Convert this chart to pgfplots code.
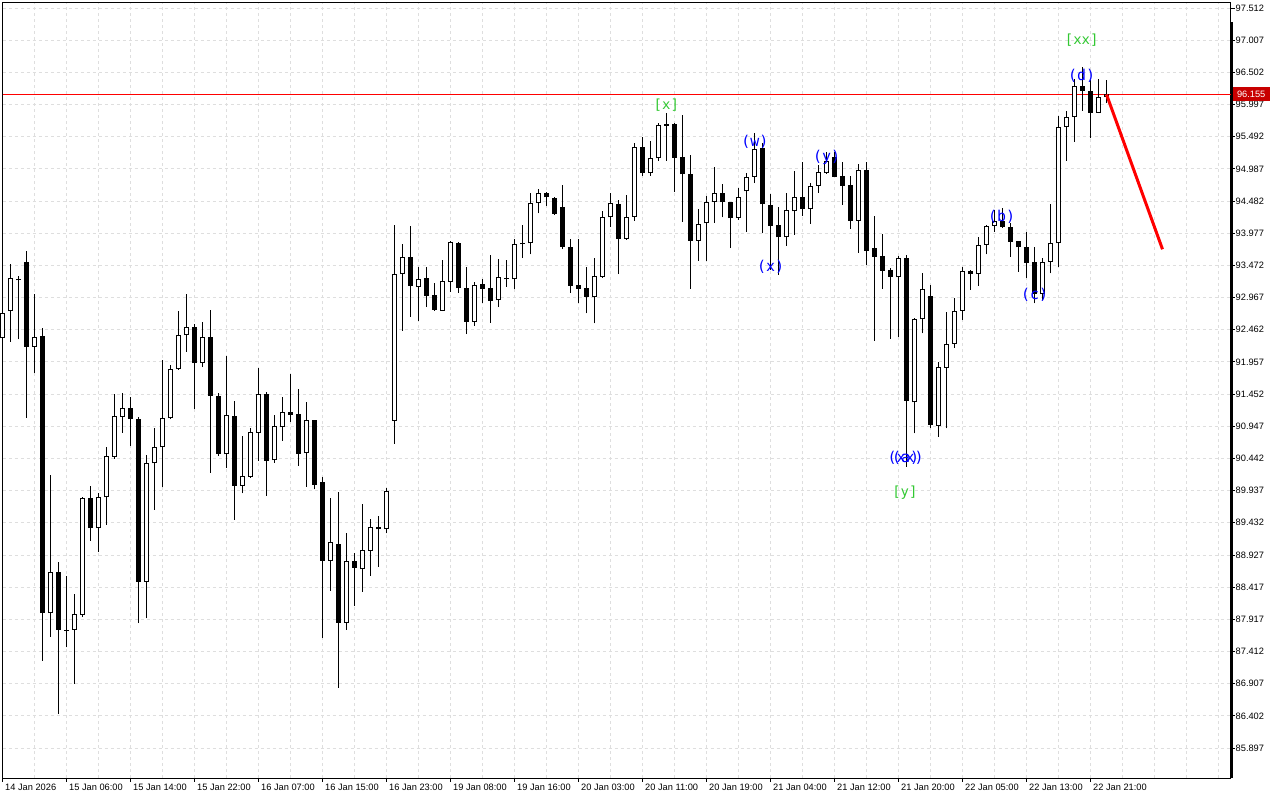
\documentclass[border=0pt]{standalone}
\usepackage{fontspec}
\setmainfont{Liberation Sans}
\newfontfamily\wavefont{DejaVu Sans Mono}
\usepackage{pgfplots}
\usepackage{pgfplotstable}
\pgfplotsset{compat=1.18}
\definecolor{gridgray}{RGB}{222,222,222}
\definecolor{wavegreen}{RGB}{50,200,50}
\definecolor{waveblue}{RGB}{0,0,255}
\definecolor{tagred}{RGB}{200,0,0}

% hourly candles: index, open, high, low, close
\pgfplotstableread{
k o h l c
0 92.328 92.851 92.254 92.730
1 92.752 93.494 92.275 93.270
2 93.251 93.306 92.312 93.235
3 93.521 93.698 91.082 92.196
4 92.196 93.023 91.779 92.353
5 92.364 92.485 87.268 88.012
6 88.012 90.182 87.644 88.665
7 88.665 88.812 86.431 87.750
8 87.750 88.597 87.478 87.734
9 87.750 88.315 86.902 87.996
10 87.985 89.842 87.949 89.817
11 89.817 90.014 89.151 89.346
12 89.346 89.895 88.979 89.832
13 89.832 90.627 89.398 90.485
14 90.470 91.454 90.434 91.108
15 91.097 91.465 90.846 91.234
16 91.234 91.402 90.642 91.057
17 91.057 91.097 87.855 88.508
18 88.508 90.496 87.933 90.366
19 90.366 90.915 89.633 90.617
20 90.617 91.987 89.989 91.072
21 91.072 91.909 91.060 91.841
22 91.841 92.757 91.830 92.375
23 92.375 93.023 92.118 92.501
24 92.501 92.552 91.214 91.936
25 91.936 92.584 91.873 92.353
26 92.353 92.772 90.218 91.427
27 91.422 91.465 90.481 90.512
28 90.507 92.050 90.297 91.119
29 91.108 91.344 89.476 90.014
30 90.014 90.795 89.895 90.162
31 90.156 90.915 90.140 90.853
32 90.846 91.857 90.407 91.454
33 91.454 91.485 89.857 90.407
34 90.413 91.124 90.376 90.947
35 90.931 91.402 90.721 91.167
36 91.171 91.768 91.019 91.129
37 91.140 91.532 90.328 90.517
38 90.523 91.328 89.999 91.041
39 91.041 91.050 89.958 90.030
40 90.068 90.156 87.629 88.837
41 88.837 89.821 88.366 89.126
42 89.099 89.920 86.844 87.864
43 87.864 89.277 87.750 88.833
44 88.833 88.963 88.126 88.727
45 88.702 89.727 88.351 89.005
46 88.994 89.487 88.597 89.361
47 89.361 89.539 88.743 89.330
48 89.330 89.974 89.267 89.936
49 91.035 94.106 90.669 93.333
50 93.333 93.808 92.447 93.609
51 93.609 94.091 92.667 93.154
52 93.129 93.442 92.604 93.264
53 93.270 93.452 92.815 92.992
54 93.003 93.191 92.760 92.772
55 92.761 93.557 92.755 93.227
56 93.216 93.855 93.059 93.840
57 93.829 93.844 93.044 93.113
58 93.113 93.452 92.391 92.589
59 92.589 93.207 92.526 93.165
60 93.176 93.264 92.887 93.107
61 93.113 93.636 92.573 92.918
62 92.924 93.568 92.815 93.285
63 93.274 93.557 93.138 93.254
64 93.254 93.882 93.097 93.803
65 93.824 94.106 93.584 93.800
66 93.819 94.604 93.646 94.447
67 94.447 94.671 94.290 94.604
68 94.604 94.629 94.409 94.541
69 94.525 94.541 94.263 94.279
70 94.384 94.734 93.725 93.766
71 93.756 93.882 93.044 93.154
72 93.160 93.882 92.877 93.107
73 93.113 93.442 92.720 92.981
74 92.981 93.584 92.563 93.306
75 93.295 94.331 93.279 94.227
76 94.227 94.604 94.080 94.447
77 94.431 94.499 93.333 93.882
78 93.882 94.577 93.875 94.237
79 94.237 95.389 94.174 95.335
80 95.335 95.483 94.880 94.918
81 94.918 95.425 94.880 95.153
82 95.153 95.712 95.116 95.671
83 95.692 95.860 95.116 95.665
84 95.687 95.703 94.629 95.163
85 95.169 95.833 94.158 94.902
86 94.902 95.205 93.102 93.860
87 93.860 94.358 93.546 94.117
88 94.133 94.562 93.546 94.472
89 94.472 95.012 94.142 94.613
90 94.613 94.745 94.227 94.463
91 94.463 94.470 93.741 94.212
92 94.212 94.682 94.185 94.541
93 94.635 94.918 94.001 94.864
94 94.864 95.546 94.761 95.295
95 95.310 95.398 93.976 94.431
96 94.420 94.593 93.400 94.095
97 94.106 94.384 93.322 93.913
98 93.913 94.604 93.777 94.342
99 94.321 94.959 93.949 94.541
100 94.541 95.091 94.252 94.353
101 94.353 94.770 94.122 94.719
102 94.719 95.048 94.613 94.934
103 94.918 95.257 94.910 95.116
104 95.178 95.247 94.860 94.864
105 94.875 95.095 94.420 94.723
106 94.734 94.875 94.044 94.174
107 94.174 95.064 93.672 94.970
108 94.970 95.095 93.479 93.703
109 93.741 94.248 92.290 93.609
110 93.620 93.965 93.102 93.389
111 93.400 93.436 92.317 93.295
112 93.285 93.625 92.353 93.584
113 93.584 93.636 90.313 91.349
114 91.323 92.640 90.837 92.631
115 92.626 93.348 92.406 93.097
116 92.992 93.165 90.915 90.967
117 90.956 91.961 90.784 91.873
118 91.867 92.745 90.915 92.239
119 92.239 92.956 92.176 92.761
120 92.757 93.442 92.615 93.384
121 93.384 93.400 93.086 93.333
122 93.333 93.923 93.154 93.792
123 93.792 94.100 93.646 94.091
124 94.091 94.342 94.001 94.174
125 94.174 94.368 94.060 94.070
126 94.070 94.133 93.609 93.844
127 93.855 93.860 93.373 93.756
128 93.756 94.001 93.270 93.515
129 93.526 93.756 92.877 93.019
130 93.019 93.584 92.929 93.526
131 93.526 94.436 93.348 93.819
132 93.819 95.817 93.452 95.640
133 95.640 95.900 95.116 95.797
134 95.797 96.393 95.414 96.288
135 96.288 96.591 95.900 96.210
136 96.210 96.382 95.467 95.869
137 95.869 96.398 95.860 96.111
138 96.111 96.382 96.017 96.155
}\candles

\begin{document}
\begin{tikzpicture}
\useasboundingbox (-2.5bp,-22bp) rectangle (1277.5bp,778bp);
\begin{axis}[
  at={(0,0)}, anchor=south west,
  scale only axis, width=1228bp, height=775.5bp,
  xmin=0, xmax=153.5, ymin=85.426, ymax=97.598,
  clip=false,
  axis line style={black, line width=0.8bp},
  xtick={0,8,...,136},
  xticklabels={14 Jan 2026, 15 Jan 06:00, 15 Jan 14:00, 15 Jan 22:00, 16 Jan 07:00,
    16 Jan 15:00, 16 Jan 23:00, 19 Jan 08:00, 19 Jan 16:00, 20 Jan 03:00,
    20 Jan 11:00, 20 Jan 19:00, 21 Jan 04:00, 21 Jan 12:00, 21 Jan 20:00,
    22 Jan 05:00, 22 Jan 13:00, 22 Jan 21:00},
  minor xtick={4,8,...,152},
  ytick={85.897,86.402,86.907,87.412,87.917,88.422,88.927,89.432,89.937,90.442,
    90.947,91.452,91.957,92.462,92.967,93.472,93.977,94.482,94.987,95.492,
    95.997,96.502,97.007,97.512},
  yticklabels={85.897,86.402,86.907,87.412,87.917,88.417,88.927,89.432,89.937,90.442,
    90.947,91.452,91.957,92.462,92.967,93.472,93.977,94.482,94.987,95.492,
    95.997,96.502,97.007,97.512},
  xtick pos=left, ytick pos=right, yticklabel pos=right,
  tick align=outside, major tick length=4bp, minor tick length=0pt,
  tick style={black, line width=0.8bp},
  xmajorgrids=false, xminorgrids=true, ymajorgrids=true,
  major grid style={gridgray, line width=0.8bp, dash pattern=on 3bp off 3bp},
  minor grid style={gridgray, line width=0.8bp, dash pattern=on 3bp off 3bp},
  xticklabel style={font=\fontsize{9.3}{11}\selectfont, anchor=north west, inner sep=0pt, xshift=2.5bp, yshift=-2bp},
  yticklabel style={font=\fontsize{9.3}{11}\selectfont, anchor=west, inner sep=0pt, xshift=1bp},
]
% current price line
\addplot[red, line width=1bp, forget plot] coordinates {(0,96.155) (153.5,96.155)};

% wicks
\addplot[draw=none, mark=none, forget plot,
  error bars/.cd, y dir=plus, y explicit, error mark=none,
  error bar style={draw=black, solid, line width=1bp}]
  table[x=k, y=l, y error plus expr={\thisrow{h}-\thisrow{l}}] {\candles};
% bodies (outline / bear fill)
\addplot[draw=none, mark=none, forget plot,
  error bars/.cd, y dir=plus, y explicit, error mark=none,
  error bar style={draw=black, solid, line width=5.5bp}]
  table[x=k, y expr={min(\thisrow{o},\thisrow{c})},
        y error plus expr={max(abs(\thisrow{c}-\thisrow{o}),0.016)}] {\candles};
% hollow insides of bull candles
\addplot[draw=none, mark=none, forget plot,
  error bars/.cd, y dir=plus, y explicit, error mark=none,
  error bar style={draw=white, solid, line width=3.5bp}]
  table[x=k, y expr={\thisrow{o}+0.016},
        y error plus expr={max(\thisrow{c}-\thisrow{o}-0.032,0)}] {\candles};

% forecast
\addplot[red, line width=3bp, forget plot] coordinates {(138.0,96.155) (145.0,93.725)};

% wave labels
\node[text=wavegreen, font=\wavefont\fontsize{14}{16}\selectfont] at (axis cs:82.98,95.995) {[x]};
\node[text=wavegreen, font=\wavefont\fontsize{14}{16}\selectfont] at (axis cs:134.9,97.010) {[xx]};
\node[text=wavegreen, font=\wavefont\fontsize{14}{16}\selectfont] at (axis cs:112.8,89.900) {[y]};
\node[text=waveblue, font=\wavefont\fontsize{15}{17}\selectfont] at (axis cs:94.06,95.409) {(w)};
\node[text=waveblue, font=\wavefont\fontsize{15}{17}\selectfont] at (axis cs:96.0,93.452) {(x)};
\node[text=waveblue, font=\wavefont\fontsize{15}{17}\selectfont] at (axis cs:103.0,95.166) {(y)};
\node[text=waveblue, font=\wavefont\fontsize{15}{17}\selectfont] at (axis cs:112.9,90.449) {(xx)};
\node[text=waveblue, font=\wavefont\fontsize{15}{17}\selectfont] at (axis cs:112.9,90.449) {(a)};
\node[text=waveblue, font=\wavefont\fontsize{15}{17}\selectfont] at (axis cs:124.9,94.227) {(b)};
\node[text=waveblue, font=\wavefont\fontsize{15}{17}\selectfont] at (axis cs:129.0,93.008) {(c)};
\node[text=waveblue, font=\wavefont\fontsize{15}{17}\selectfont] at (axis cs:134.9,96.448) {(d)};

% price tag
\node[fill=tagred, text=white, font=\fontsize{9.3}{11}\selectfont, inner sep=0pt,
  minimum width=38bp, minimum height=14bp, anchor=west]
  at ([xshift=1.5bp]axis cs:153.5,96.155) {96.155};
\end{axis}
\draw[black, line width=2.5bp] (1229.7bp,0bp) -- (1229.7bp,756bp);
\end{tikzpicture}
\end{document}
